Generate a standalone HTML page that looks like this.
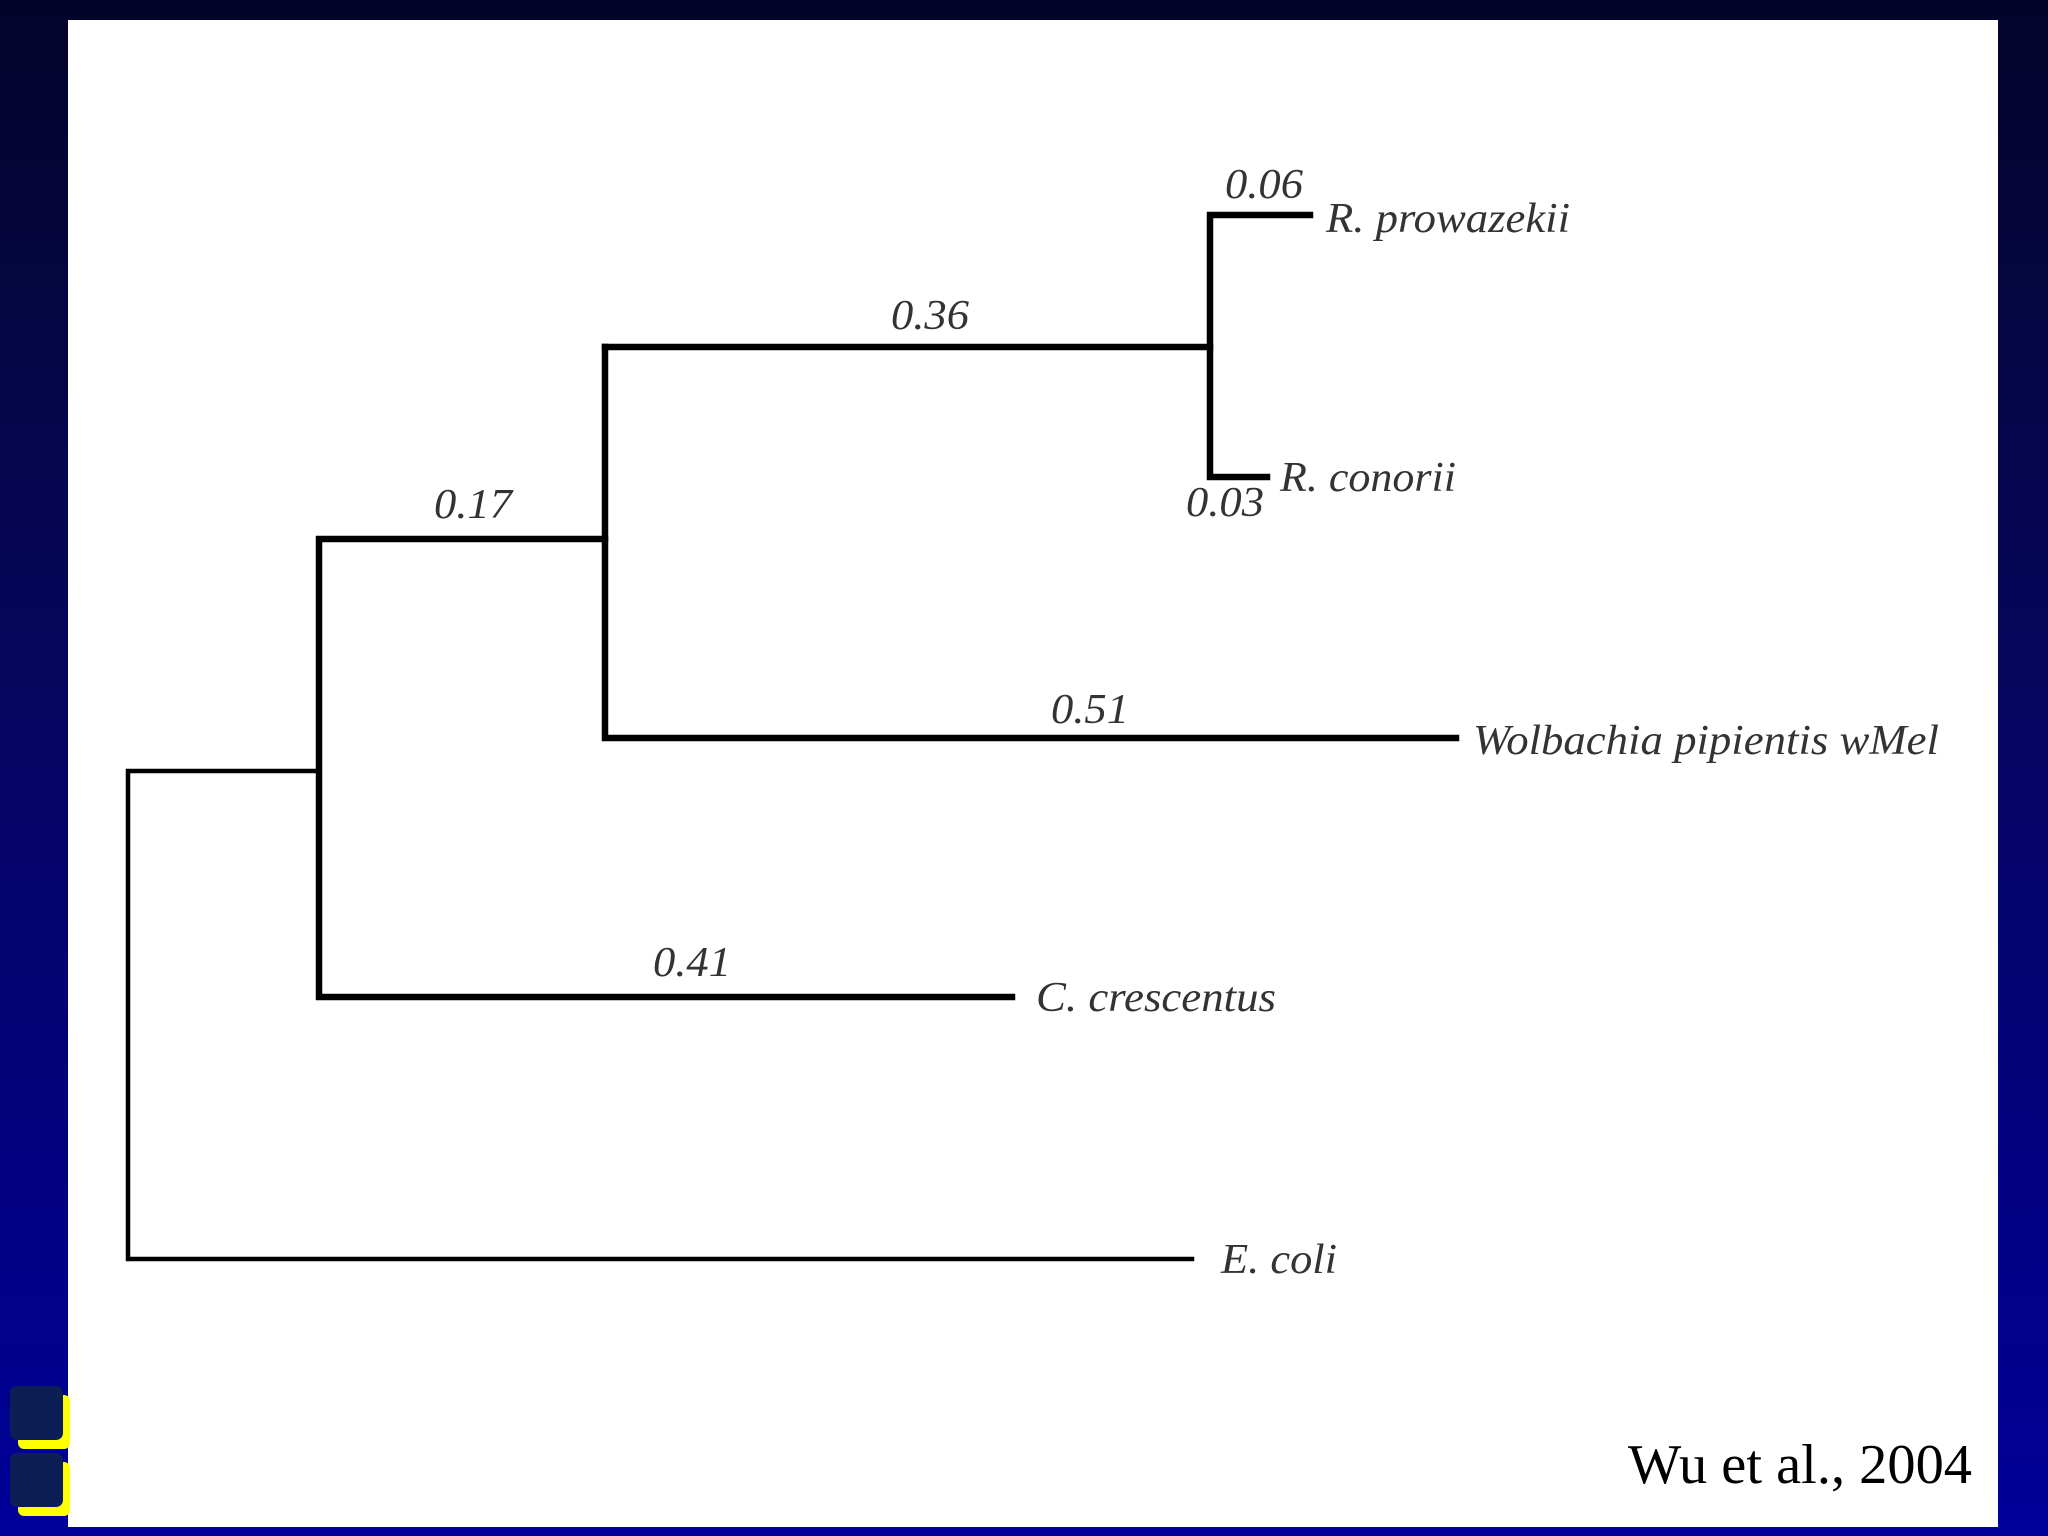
<!DOCTYPE html>
<html><head><meta charset="utf-8"><style>
html,body{margin:0;padding:0;width:2048px;height:1536px;overflow:hidden}
body{background:linear-gradient(#04042a 0%,#06065a 40%,#00009a 100%)}
svg{position:absolute;left:0;top:0}
</style></head><body>
<svg width="2048" height="1536" viewBox="0 0 2048 1536">
<rect x="68" y="20" width="1930" height="1507" fill="#fff"/>
<rect x="18" y="1395" width="52" height="54" rx="6" fill="#ffff00"/>
<rect x="10" y="1386" width="53" height="54" rx="7" fill="#0c1f55"/>
<rect x="18" y="1462" width="52" height="54" rx="6" fill="#ffff00"/>
<rect x="10" y="1453" width="53" height="54" rx="7" fill="#0c1f55"/>
<g stroke="#000" fill="none" stroke-linecap="square">
<g stroke-width="6.5">
<path d="M1310 215 H1210 V477 H1267"/>
<path d="M1210 347 H605"/>
<path d="M605 347 V738 H1456"/>
<path d="M605 539 H319 V997 H1012"/>
</g>
<g stroke-width="4.5">
<path d="M319 771 H128 V1259 H1192"/>
</g>
</g>
<g font-family="Liberation Serif, serif" font-style="italic" fill="#333" font-size="42" lengthAdjust="spacingAndGlyphs">
<text x="1225" y="198" textLength="78" lengthAdjust="spacingAndGlyphs">0.06</text>
<text x="1326" y="232" textLength="244" lengthAdjust="spacingAndGlyphs">R. prowazekii</text>
<text x="891" y="329" textLength="78" lengthAdjust="spacingAndGlyphs">0.36</text>
<text x="1280" y="491" textLength="176" lengthAdjust="spacingAndGlyphs">R. conorii</text>
<text x="1186" y="516" textLength="78" lengthAdjust="spacingAndGlyphs">0.03</text>
<text x="434" y="518" textLength="78" lengthAdjust="spacingAndGlyphs">0.17</text>
<text x="1051" y="723" textLength="78" lengthAdjust="spacingAndGlyphs">0.51</text>
<text x="1473" y="754" textLength="466" lengthAdjust="spacingAndGlyphs">Wolbachia pipientis wMel</text>
<text x="653" y="976" textLength="78" lengthAdjust="spacingAndGlyphs">0.41</text>
<text x="1036" y="1011" textLength="240" lengthAdjust="spacingAndGlyphs">C. crescentus</text>
<text x="1221" y="1273" textLength="116" lengthAdjust="spacingAndGlyphs">E. coli</text>
</g>
<text x="1628" y="1483" font-family="Liberation Serif, serif" font-size="56" fill="#000" textLength="344" lengthAdjust="spacingAndGlyphs">Wu et al., 2004</text>
</svg>
</body></html>
